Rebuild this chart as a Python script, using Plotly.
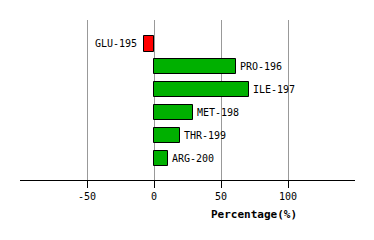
import plotly.graph_objects as go

residues = ["GLU-195", "PRO-196", "ILE-197", "MET-198", "THR-199", "ARG-200"]
percentages = [-7.5, 61.2, 71.0, 28.9, 19.1, 10.8]
tick_values = [-50, 0, 50, 100]
tick_labels = ["-50", "0", "50", "100"]

positions = list(range(len(residues)))
colors = ["#FF0000" if v < 0 else "#00B000" for v in percentages]

fig = go.Figure()
fig.add_trace(go.Bar(
    x=percentages, y=positions, orientation="h",
    marker=dict(color=colors, line=dict(color="black", width=1)),
    width=0.66, showlegend=False, hoverinfo="skip",
))

font = "DejaVu Sans Mono"
for p, v, name in zip(positions, percentages, residues):
    fig.add_annotation(
        x=v, y=p, text=name, showarrow=False,
        xanchor="right" if v < 0 else "left",
        xshift=-5 if v < 0 else 2,
        font=dict(family=font, size=10, color="black"),
    )

fig.add_annotation(
    xref="paper", yref="paper", x=0.699, y=-0.2125, xanchor="center", yanchor="middle",
    text="<b>Percentage(%)</b>", showarrow=False,
    font=dict(family=font, size=11, color="black"),
)

fig.update_xaxes(
    range=[-100, 150], tickvals=tick_values, ticktext=tick_labels,
    showgrid=True, gridcolor="#999999", gridwidth=1,
    zeroline=False, showline=True, linecolor="black", linewidth=1,
    ticks="outside", ticklen=7, tickcolor="black",
    tickfont=dict(family=font, size=10, color="black"),
)
fig.update_yaxes(
    range=[5.96, -1.05], showticklabels=False, showgrid=False,
    zeroline=False, showline=False,
)
fig.update_layout(
    width=374, height=240, margin=dict(l=20, r=19, t=20, b=60),
    plot_bgcolor="white", paper_bgcolor="white", bargap=0,
)
fig.write_html("out.html")
